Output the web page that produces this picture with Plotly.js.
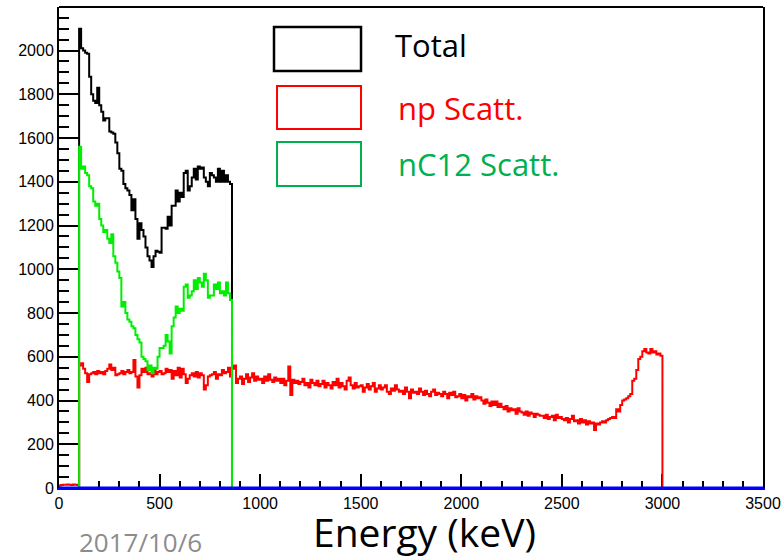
<!DOCTYPE html>
<html><head><meta charset="utf-8">
<script src="https://cdn.plot.ly/plotly-3.0.1.min.js"></script>
<style>html,body{margin:0;padding:0;background:#fff}#chart{width:784px;height:560px}</style>
</head><body><div id="chart"></div>
<script>
// ---- data (counts per 10 keV bin) ----
const binWidth = 10; // keV

const totalStart = 100; // keV, first bin edge of "Total"
const totalCounts = [
  2100, 2010, 2000, 1990, 1985, 1880, 1800, 1770, 1760, 1830,
  1750, 1720, 1680, 1690, 1690, 1630, 1625, 1620, 1580, 1530,
  1460, 1450, 1390, 1370, 1360, 1340, 1270, 1320, 1230, 1140,
  1210, 1180, 1150, 1100, 1060, 1040, 1010, 1060, 1085, 1080,
  1075, 1190, 1190, 1185, 1240, 1200, 1290, 1290, 1360, 1310,
  1350, 1330, 1440, 1450, 1360, 1380, 1420, 1460, 1410, 1470,
  1460, 1465, 1420, 1400, 1380, 1440, 1430, 1420, 1400, 1460,
  1400, 1450, 1400, 1430, 1400, 1390
];

const nc12Start = 100; // keV
const nc12Counts = [
  1560, 1460, 1470, 1440, 1430, 1380, 1370, 1310, 1290, 1300,
  1230, 1200, 1170, 1180, 1140, 1120, 1160, 1060, 1030, 990,
  960, 830, 850, 800, 770, 760, 740, 730, 700, 680,
  665, 600, 590, 580, 540, 560, 525, 550, 545, 600,
  640, 640, 650, 700, 670, 615, 740, 780, 830, 800,
  820, 810, 920, 930, 870, 880, 900, 950, 910, 960,
  940, 920, 980, 950, 870, 880, 880, 930, 910, 940,
  890, 900, 880, 940, 890, 860
];

const npStart = 0; // keV
const npCounts = [
  12, 14, 15, 15, 16, 15, 14, 16, 15, 14,
  560, 570, 545, 525, 485, 520, 525, 530, 520, 535,
  525, 530, 520, 535, 545, 565, 540, 550, 515, 520,
  525, 535, 520, 530, 540, 525, 530, 585, 510, 460,
  515, 545, 530, 550, 520, 525, 510, 540, 520, 530,
  535, 520, 525, 545, 530, 540, 500, 535, 515, 550,
  505, 545, 520, 480, 500, 515, 525, 510, 530, 505,
  525, 515, 450, 470, 510, 515, 520, 530, 500, 520,
  515, 540, 525, 530, 550, 510, 545, 560, 480, 500,
  510, 475, 500, 520, 485, 505, 525, 490, 510, 495,
  500, 480, 510, 490, 520, 495, 485, 505, 490, 500,
  480, 500, 470, 490, 555, 425, 495, 480, 490, 475,
  485, 500, 470, 480, 460, 495, 480, 470, 490, 465,
  475, 490, 460, 480, 470, 455, 485, 470, 500, 460,
  480, 465, 450, 490, 505, 470, 455, 480, 460, 465,
  470, 440, 460, 475, 450, 465, 480, 440, 455, 470,
  450, 460, 470, 440, 430, 455, 445, 470, 450, 440,
  445, 430, 460, 440, 410, 450, 435, 440, 430, 455,
  440, 425, 445, 430, 420, 440, 450, 425, 435, 430,
  420, 440, 430, 410, 435, 425, 440, 415, 420, 430,
  410, 425, 400, 420, 415, 430, 405, 420, 410, 415,
  400, 385, 405, 390, 375, 395, 380, 395, 370, 385,
  370, 360, 375, 350, 365, 355, 360, 340, 365, 350,
  345, 335, 350, 330, 345, 340, 325, 340, 335, 330,
  330, 320, 335, 315, 325, 330, 310, 335, 320, 325,
  315, 310, 320, 300, 315, 330, 305, 310, 295, 315,
  300, 310, 290, 305, 295, 300, 265, 295, 290, 300,
  305, 300, 310, 315, 320, 325, 320, 360, 350, 380,
  400, 405, 410, 420, 430, 490, 500, 540, 590, 600,
  625, 635, 620, 615, 635, 620, 625, 610, 615, 605
];

// empty (zero) component drawn in blue along the axis
const zeroX = [0, 3500];
const zeroY = [0, 0];

const legendLabels = ["Total", "np Scatt.", "nC12 Scatt."];
const xTitle = "Energy (keV)";
const dateLabel = "2017/10/6";
const xRange = [0, 3500];
const yRange = [0, 2199];

// ---- build step outlines (ROOT-style histogram) ----
function stepTrace(name, start, counts, color) {
  const xs = [start], ys = [0];
  counts.forEach((c, i) => { xs.push(start + i * binWidth); ys.push(c); });
  xs.push(start + counts.length * binWidth); ys.push(0);
  return {type: 'scatter', mode: 'lines', name: name, x: xs, y: ys,
          line: {shape: 'hv', color: color, width: 2}, showlegend: false,
          hoverinfo: 'x+y'};
}

const traces = [
  stepTrace(legendLabels[0], totalStart, totalCounts, '#000000'),
  stepTrace(legendLabels[1], npStart, npCounts, '#ff0000'),
  stepTrace(legendLabels[2], nc12Start, nc12Counts, '#00ee00'),
  {type: 'scatter', mode: 'lines', name: 'zero', x: zeroX, y: zeroY,
   line: {color: '#0000ff', width: 3}, showlegend: false, hoverinfo: 'skip'}
];

const tickFont = {family: 'Liberation Sans, Arial, sans-serif', size: 16, color: '#000'};
const ppFont = 'Open Sans, Lato, sans-serif';

const layout = {
  width: 784, height: 560,
  margin: {l: 59, r: 21, t: 7, b: 72},
  paper_bgcolor: '#fff', plot_bgcolor: '#fff',
  showlegend: false,
  xaxis: {
    range: xRange, showgrid: false, zeroline: false,
    showline: true, linecolor: '#0000ff', linewidth: 2, mirror: false,
    ticks: 'inside', ticklen: 14, tickwidth: 2, tickcolor: '#000',
    tick0: 0, dtick: 500,
    minor: {dtick: 100, ticks: 'inside', ticklen: 7, tickwidth: 2, tickcolor: '#000', showgrid: false},
    tickfont: tickFont,
    layer: 'below traces'
  },
  yaxis: {
    range: yRange, showgrid: false, zeroline: false,
    showline: true, linecolor: '#000', linewidth: 2, mirror: true,
    ticks: 'inside', ticklen: 20, tickwidth: 2, tickcolor: '#000',
    tick0: 0, dtick: 200,
    minor: {dtick: 50, ticks: 'inside', ticklen: 10, tickwidth: 2, tickcolor: '#000', showgrid: false},
    tickfont: tickFont,
    layer: 'below traces'
  },
  shapes: [
    {type: 'line', xref: 'paper', yref: 'paper', x0: 0, x1: 1, y0: 1, y1: 1, line: {color: '#000', width: 2}},
    {type: 'rect', xref: 'paper', yref: 'paper', x0: 0.3054, x1: 0.4290, y0: 0.8669, y1: 0.9584, line: {color: '#000', width: 2.5}},
    {type: 'rect', xref: 'paper', yref: 'paper', x0: 0.3097, x1: 0.4290, y0: 0.7464, y1: 0.8358, line: {color: '#ff0000', width: 2}},
    {type: 'rect', xref: 'paper', yref: 'paper', x0: 0.3097, x1: 0.4290, y0: 0.6279, y1: 0.7193, line: {color: '#00b050', width: 2}}
  ],
  annotations: [
    {xref: 'paper', yref: 'paper', x: 0.4745, y: 0.9210, xanchor: 'left', yanchor: 'middle', showarrow: false,
     text: legendLabels[0], font: {family: ppFont, size: 31, color: '#000'}},
    {xref: 'paper', yref: 'paper', x: 0.4787, y: 0.7900, xanchor: 'left', yanchor: 'middle', showarrow: false,
     text: legendLabels[1], font: {family: ppFont, size: 31, color: '#ff0000'}},
    {xref: 'paper', yref: 'paper', x: 0.4787, y: 0.6736, xanchor: 'left', yanchor: 'middle', showarrow: false,
     text: legendLabels[2], font: {family: ppFont, size: 31, color: '#00b050'}},
    {xref: 'paper', yref: 'paper', x: 0.5185, y: -0.0905, xanchor: 'center', yanchor: 'middle', showarrow: false,
     text: xTitle, font: {family: ppFont, size: 39, color: '#000'}},
    {xref: 'paper', yref: 'paper', x: 0.0256, y: -0.1120, xanchor: 'left', yanchor: 'middle', showarrow: false,
     text: dateLabel, font: {family: ppFont, size: 26, color: '#8c8c8c'}}
  ]
};

Plotly.newPlot('chart', traces, layout, {staticPlot: true, displayModeBar: false});
</script>
</body></html>
